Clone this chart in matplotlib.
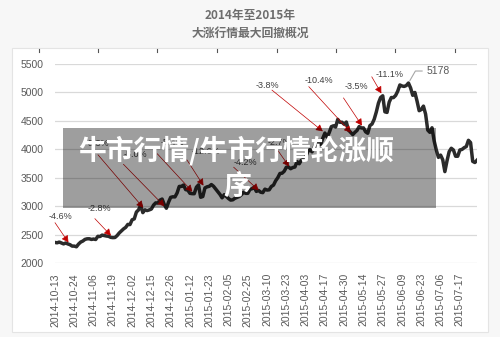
import numpy as np
import matplotlib
matplotlib.use("Agg")
import matplotlib.pyplot as plt
from matplotlib.patches import Rectangle
from matplotlib.lines import Line2D

plt.rcParams['font.family'] = ['Liberation Sans', 'DejaVu Sans']

# Shanghai composite, daily closes (trading days)
oct14 = [2366, 2360, 2373, 2357, 2341, 2356, 2340, 2327, 2302, 2302, 2290, 2338, 2373, 2391, 2420]
nov14 = [2430, 2431, 2419, 2426, 2418, 2474, 2470, 2495, 2486, 2479, 2474, 2456, 2451, 2453,
         2487, 2533, 2568, 2604, 2631, 2683]
dec14 = [2680, 2764, 2780, 2900, 2938, 3020, 2890, 2940, 2926, 2938, 2953, 3022, 3061, 3058,
         3109, 3128, 3033, 2967, 3073, 3158, 3168, 3166, 3235]
jan15 = [3350, 3351, 3374, 3294, 3285, 3229, 3223, 3222, 3336, 3377, 3160, 3173, 3324, 3343,
         3352, 3383, 3353, 3306, 3262, 3210]
feb15 = [3150, 3205, 3174, 3137, 3110, 3115, 3142, 3158, 3173, 3204, 3247, 3229, 3229, 3298, 3310]
mar15 = [3336, 3263, 3280, 3249, 3241, 3302, 3286, 3291, 3349, 3373, 3449, 3503, 3577, 3582,
         3617, 3688, 3691, 3661, 3682, 3691, 3787, 3748]
apr15 = [3810, 3826, 3864, 3961, 3995, 3958, 4034, 4122, 4136, 4084, 4195, 4287, 4217, 4294,
         4399, 4415, 4394, 4527, 4477, 4477, 4442]
may15 = [4481, 4340, 4300, 4260, 4300, 4334, 4401, 4376, 4378, 4309, 4284, 4418, 4446, 4529,
         4658, 4814, 4911, 4942, 4660, 4650]
jun15 = [4829, 4911, 4910, 4947, 5023, 5132, 5114, 5106, 5122, 5166, 5080, 4950, 5000, 4850,
         4680, 4700, 4760, 4620, 4340, 4300, 4380]
jul15 = [4150, 3990, 3860, 3900, 3820, 3610, 3800, 3960, 4020, 3990, 3880, 3880, 3990, 4000,
         4030, 4050, 4160, 4120, 3790, 3770, 3810]

tick_labels = ['2014-10-13', '2014-10-24', '2014-11-06', '2014-11-19', '2014-12-02', '2014-12-15',
               '2014-12-26', '2015-01-12', '2015-01-23', '2015-02-05', '2015-02-25', '2015-03-10',
               '2015-03-23', '2015-04-03', '2015-04-17', '2015-04-30', '2015-05-14', '2015-05-27',
               '2015-06-09', '2015-06-23', '2015-07-06', '2015-07-17']
tick_step = 9  # one label every 9 trading days

# drawdown callouts: label and the trading day the arrow points at
dd_labels = ['-4.6%', '-2.8%', '-3.3%', '-5.0%', '-5.4%', '-12.6%', '-4.2%', '-2.7%',
             '-3.8%', '-10.4%', '-3.5%', '-11.1%']
dd_days = [7, 27, 42, 52, 65, 70, 96, 110, 126, 139, 144, 153]
peak_label = '5178'

close = np.array(oct14 + nov14 + dec14 + jan15 + feb15 + mar15 + apr15 + may15 + jun15 + jul15)
days = np.arange(len(close))
peak_day = int(np.argmax(close))

# offsets (pixels) of arrow tail and label, relative to the point
arrow_off = [(-15, 22), (-18, 19), (-47, 55), (-43, 44), (-37, 40), (-18, 28),
             (-27, 25), (-14, 20), (-53, 43), (-44, 48), (-20, 30), (-11, 19)]
label_off = [(-10, 28), (-13, 29), (-48, 66), (-31, 54), (-22, 51), (1, 36),
             (-15, 30), (-11, 26), (-58, 48), (-34, 54), (-7, 41), (7, 21)]

W, H = 500, 337
fig = plt.figure(figsize=(W / 100, H / 100), dpi=100)
fig.patch.set_facecolor('#f7f7f7')

# white card behind the chart
card = Rectangle((12 / W, 1 - 332 / H), 476 / W, 284 / H, transform=fig.transFigure,
                 facecolor='white', edgecolor='#e4e4e4', lw=0.8, zorder=0)
fig.add_artist(card)
for xp in [39, 98, 157, 217, 277, 336, 395, 455]:
    fig.add_artist(Line2D([xp / W, xp / W], [1 - 49 / H, 1 - 52 / H], color='#555555', lw=0.8))

title_font = ['Noto Sans CJK SC', 'DejaVu Sans']
fig.text(0.5, 1 - 15 / H, '2014年至2015年', ha='center', va='center', fontsize=8.5,
         fontweight='bold', color='#6e6e6e', family=title_font)
fig.text(0.5, 1 - 33 / H, '大涨行情最大回撤概况', ha='center', va='center', fontsize=8.5,
         fontweight='bold', color='#6e6e6e', family=title_font)

ax = fig.add_axes([55 / W, 1 - 263.3 / H, 422 / W, (263.3 - 64) / H])
ax.set_facecolor('none')
ax.plot(days, close, color='#2b2b2b', lw=2.5, solid_joinstyle='round', zorder=3)

ax.set_xlim(0, len(close) - 1)
ax.set_ylim(2000, 5500)
ax.set_yticks(np.arange(2000, 5501, 500))
ax.set_xticks(np.arange(len(tick_labels)) * tick_step)
ax.set_xticklabels(tick_labels, rotation=90)
ax.tick_params(axis='both', length=0, colors='#595959', labelsize=7.5)
ax.tick_params(axis='y', pad=8)
ax.tick_params(axis='x', pad=7)
ax.grid(axis='y', color='#d9d9d9', lw=0.9)
ax.set_axisbelow(True)
for s in ax.spines.values():
    s.set_visible(False)

for lab, d, ao, lo in zip(dd_labels, dd_days, arrow_off, label_off):
    ax.annotate('', xy=(d, close[d]), xytext=ao, textcoords='offset pixels',
                arrowprops=dict(arrowstyle='-|>,head_length=0.4,head_width=0.22', color='#c00000',
                                lw=0.5, shrinkA=0, shrinkB=2, mutation_scale=10), zorder=4)
    ax.annotate(lab, xy=(d, close[d]), xytext=lo, textcoords='offset pixels',
                ha='center', va='center', fontsize=6.5, color='#404040', zorder=4)

ax.annotate(peak_label, xy=(peak_day, close[peak_day]), xytext=(18, 12), textcoords='offset pixels',
            ha='left', va='center', fontsize=7.5, color='#595959',
            arrowprops=dict(arrowstyle='-', color='#a6a6a6', lw=0.8, shrinkA=1, shrinkB=2,
                            relpos=(0, 0.5), connectionstyle='angle,angleA=0,angleB=60,rad=0'))

# grey caption overlay
fig.add_artist(Rectangle((63 / W, 1 - 208 / H), 373 / W, 80 / H, transform=fig.transFigure,
                         facecolor='black', alpha=0.38, lw=0, zorder=10))
cap_font = ['Noto Sans CJK SC', 'DejaVu Sans']
fig.text(236 / W, 1 - 151 / H, '牛市行情/牛市行情轮涨顺', ha='center', va='center', fontsize=20,
         fontweight='bold', color='white', family=cap_font, zorder=11)
fig.text(237 / W, 1 - 187 / H, '序', ha='center', va='center', fontsize=20,
         fontweight='bold', color='white', family=cap_font, zorder=11)

fig.savefig('out.png', dpi=100, facecolor=fig.get_facecolor())
